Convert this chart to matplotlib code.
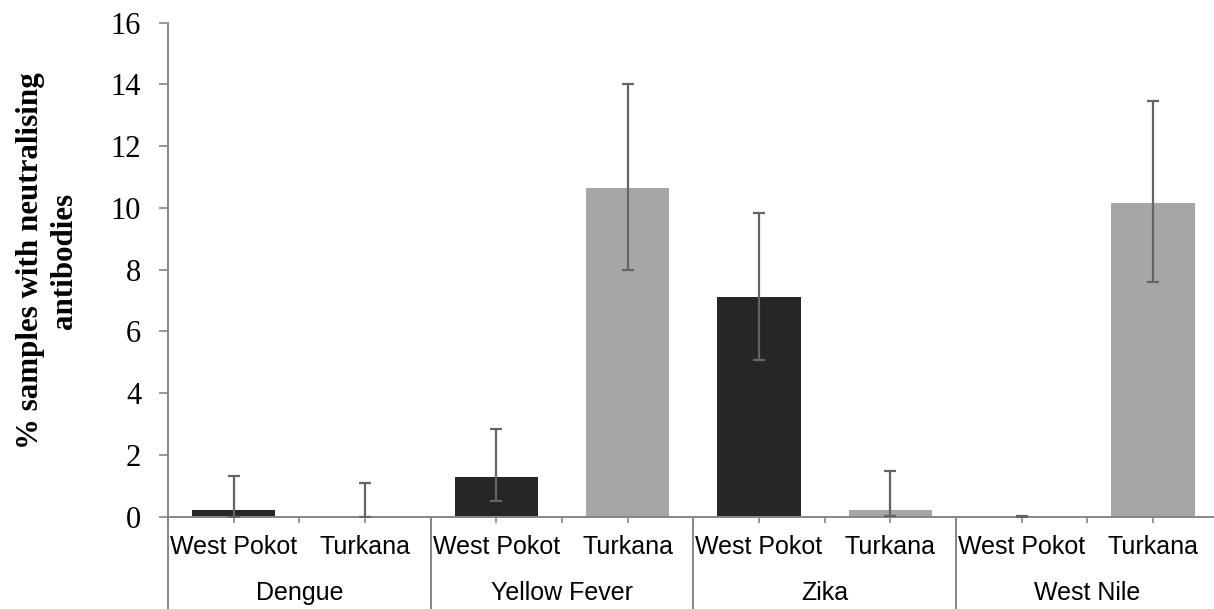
import matplotlib.pyplot as plt
import numpy as np

viruses = ['Dengue', 'Yellow Fever', 'Zika', 'West Nile']
regions = ['West Pokot', 'Turkana']

# % seropositive per virus, one array per region
west_pokot = [0.22, 1.29, 7.12, 0.0]
turkana = [0.0, 10.65, 0.22, 10.16]

# confidence limits (lower, upper)
west_pokot_lo = [0.0, 0.52, 5.08, 0.0]
west_pokot_hi = [1.33, 2.84, 9.85, 0.02]
turkana_lo = [0.0, 8.0, 0.03, 7.59]
turkana_hi = [1.10, 14.01, 1.48, 13.47]

yticks = [0, 2, 4, 6, 8, 10, 12, 14, 16]

W, H = 1214, 609
fig = plt.figure(figsize=(W / 100, H / 100), dpi=100)
left, right, top, bottom = 168, 1218.6, 22.7, 516.7
ax = fig.add_axes([left / W, 1 - bottom / H, (right - left) / W, (bottom - top) / H])

n = len(viruses)
pos_wp = np.arange(n) * 2 + 0.5
pos_tu = np.arange(n) * 2 + 1.5
bw = 0.635

ax.bar(pos_wp, west_pokot, width=bw, color='#262626', zorder=2)
ax.bar(pos_tu, turkana, width=bw, color='#a6a6a6', zorder=2)

err_kw = dict(fmt='none', ecolor='#646464', elinewidth=1.6, capsize=4.3, capthick=1.6, zorder=3)
wp = np.array(west_pokot)
tu = np.array(turkana)
ax.errorbar(pos_wp, wp, yerr=[wp - np.array(west_pokot_lo), np.array(west_pokot_hi) - wp], **err_kw)
ax.errorbar(pos_tu, tu, yerr=[tu - np.array(turkana_lo), np.array(turkana_hi) - tu], **err_kw)

ax.set_xlim(0, 2 * n)
ax.set_ylim(0, 16)

axis_col = '#868686'
for s in ['top', 'right']:
    ax.spines[s].set_visible(False)
for s in ['left', 'bottom']:
    ax.spines[s].set_color(axis_col)
    ax.spines[s].set_linewidth(1.4)

ax.set_yticks(yticks)
ax.set_yticklabels([str(t) for t in yticks], family='Liberation Serif', fontsize=22)
ax.tick_params(axis='y', direction='out', length=6.3, width=1.2, color=axis_col, pad=13)

# small ticks at every bar centre and slot edge
ax.set_xticks(np.arange(0, 2 * n + 0.01, 0.5))
ax.set_xticklabels([])
ax.tick_params(axis='x', direction='out', length=4, width=1.2, color=axis_col)

# group separators running down through the label rows
sep_len = (H - bottom) / (bottom - top)
for g in range(n + 1):
    ax.plot([2 * g, 2 * g], [0, -sep_len], transform=ax.get_xaxis_transform(),
            color=axis_col, lw=1.4, clip_on=False)

lab_kw = dict(xycoords=('data', 'axes fraction'), textcoords='offset pixels',
              ha='center', va='center', family='Liberation Sans', fontsize=18)
for i in range(n):
    ax.annotate(regions[0], xy=(pos_wp[i], 0), xytext=(0, -30), **lab_kw)
    ax.annotate(regions[1], xy=(pos_tu[i], 0), xytext=(0, -30), **lab_kw)
    ax.annotate(viruses[i], xy=(2 * i + 1, 0), xytext=(0, -76), **lab_kw)

fig.text(47.5 / W, 1 - 260.5 / H, '% samples with neutralising\nantibodies',
         rotation=90, ha='center', va='center', multialignment='center',
         family='Liberation Serif', fontweight='bold', fontsize=22.3)

fig.savefig('out.png', dpi=100)
